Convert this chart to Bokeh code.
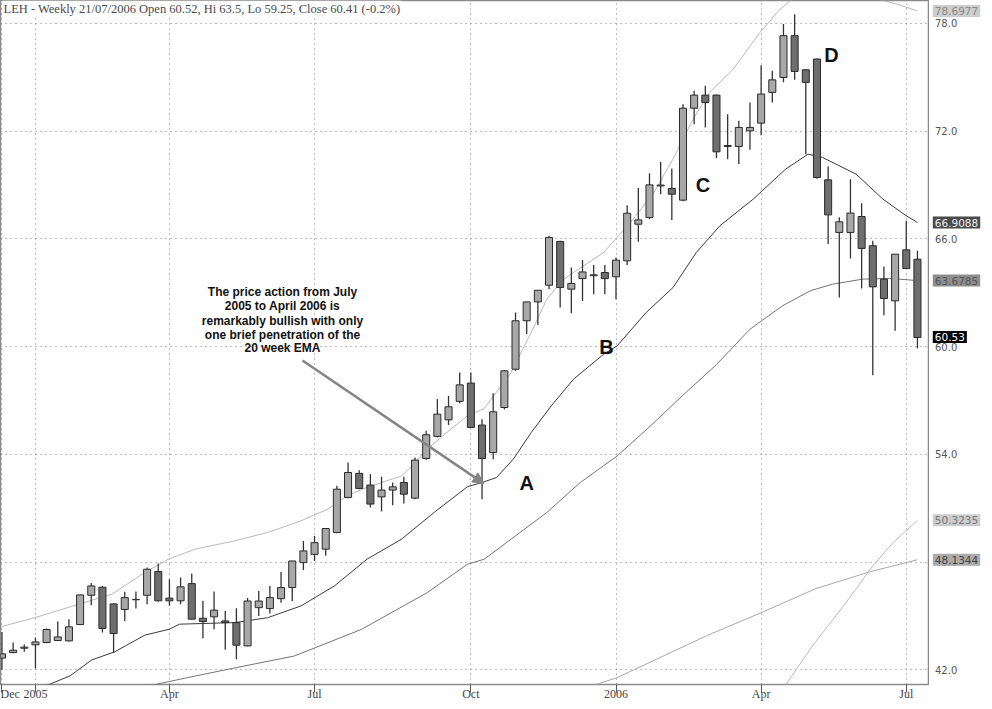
from bokeh.plotting import figure
from bokeh.layouts import row
from bokeh.models import Range1d, FixedTicker, Label, Arrow, NormalHead, ColumnDataSource, Grid
from bokeh.embed import file_html
from bokeh.resources import INLINE
from bokeh.core.properties import value

# ---------------- data (weekly candles, index = week number) ----------------
opens = [42.65, 42.96, 43.20, 43.39, 43.52, 43.63, 43.61, 44.52, 46.15, 46.60,
         45.67, 45.36, 45.90, 46.15, 47.47, 45.99, 45.84, 46.80, 44.87, 44.95,
         44.72, 44.63, 43.33, 45.46, 45.41, 45.96, 46.58, 47.97, 48.43, 48.72,
         49.65, 51.60, 52.94, 52.29, 51.63, 52.01, 52.43, 51.56, 53.77, 55.00,
         55.92, 56.95, 57.97, 55.63, 54.10, 56.61, 58.74, 61.44, 62.49, 63.42,
         65.86, 63.20, 63.79, 63.95, 64.13, 63.89, 64.78, 66.82, 67.19, 68.95,
         68.81, 68.16, 73.28, 74.01, 74.01, 71.20, 71.15, 72.02, 72.45, 74.16,
         74.99, 77.32, 75.42, 76.02, 69.29, 66.36, 66.36, 67.25, 65.62, 63.76,
         62.55, 65.39, 64.87]
highs = [44.10, 43.52, 43.41, 43.80, 44.30, 44.69, 44.82, 46.20, 46.84, 46.67,
         45.70, 46.34, 46.36, 47.70, 47.92, 47.04, 47.14, 47.36, 45.84, 46.36,
         45.28, 45.43, 46.00, 46.39, 46.67, 47.45, 48.07, 49.18, 49.45, 49.90,
         52.25, 53.55, 53.12, 52.90, 52.75, 52.43, 52.75, 53.83, 55.31, 57.08,
         57.26, 58.56, 58.56, 55.96, 57.41, 58.70, 61.90, 62.50, 63.15, 66.17,
         65.90, 64.41, 64.83, 64.54, 64.54, 64.96, 67.88, 68.83, 69.66, 70.29,
         69.92, 73.50, 74.25, 74.53, 74.05, 72.95, 72.58, 73.60, 75.68, 75.37,
         77.97, 78.52, 75.45, 76.05, 70.04, 67.20, 69.33, 67.99, 65.90, 64.47,
         65.15, 67.01, 65.34]
lows = [42.00, 42.92, 43.00, 42.07, 43.48, 43.60, 43.57, 44.50, 45.60, 44.07,
        42.96, 44.72, 45.41, 45.65, 45.80, 45.56, 45.65, 44.80, 43.76, 44.26,
        43.11, 42.59, 43.30, 44.99, 45.13, 45.74, 45.83, 47.56, 48.06, 48.35,
        49.60, 51.55, 52.06, 51.04, 50.82, 51.17, 51.26, 51.50, 53.70, 54.94,
        55.63, 56.85, 55.50, 51.50, 53.73, 56.50, 58.65, 60.70, 61.21, 63.20,
        62.18, 61.86, 62.55, 62.92, 62.92, 62.64, 64.54, 65.84, 67.10, 68.49,
        67.06, 68.10, 72.39, 72.20, 70.50, 70.44, 70.17, 70.97, 71.78, 73.60,
        74.72, 74.86, 70.72, 69.35, 65.71, 62.74, 64.91, 63.24, 58.41, 61.75,
        60.88, 64.35, 59.90]
closes = [42.89, 43.09, 43.26, 43.55, 44.24, 43.83, 44.39, 46.17, 46.67, 44.30,
          44.02, 46.02, 45.92, 47.60, 45.84, 45.84, 46.62, 44.82, 44.69, 45.32,
          44.63, 43.37, 45.83, 45.83, 46.02, 46.58, 48.06, 48.62, 49.08, 49.87,
          52.06, 52.99, 52.10, 51.23, 52.01, 52.19, 51.78, 53.68, 55.09, 56.24,
          56.65, 57.87, 55.50, 53.77, 56.37, 58.65, 61.44, 62.49, 63.14, 66.08,
          63.29, 63.52, 64.16, 64.00, 63.79, 64.82, 67.43, 67.06, 69.01, 69.00,
          68.49, 73.28, 74.01, 73.60, 70.85, 71.15, 72.21, 72.21, 74.07, 74.86,
          77.32, 75.33, 74.72, 69.42, 67.34, 66.95, 67.44, 65.47, 63.33, 62.68,
          65.15, 64.35, 60.51]
weeks = list(range(len(opens)))

tick_weeks = [0, 3, 15, 28, 42, 55, 68, 81]
tick_labels = ["Dec", "2005", "Apr", "Jul", "Oct", "2006", "Apr", "Jul"]
price_ticks = [42, 48, 54, 60, 66, 72, 78]
price_labels = ["42.0", "48.0", "54.0", "60.0", "66.0", "72.0", "78.0"]

# 20 week EMA
ema_w = [3.9, 6.1, 8.05, 10.1, 12.8, 15.0, 15.9, 20.9, 23.8, 26.8, 29.8, 32.7, 35.8, 38.7,
         41.7, 43.0, 44.3, 45.8, 47.4, 49.2, 51.2, 53.9, 55.1, 57.7, 60.1, 62.2, 64.3,
         67.3, 70.2, 72.2, 73.5, 76.5, 78.9, 80.9, 82.0]
ema_v = [41.10, 41.66, 42.55, 43.00, 43.93, 44.26, 44.54, 44.63, 44.90, 45.56, 46.68, 48.16,
         49.28, 50.76, 52.20, 52.43, 52.71, 53.73, 55.21, 56.70, 58.19, 59.58, 60.04, 61.90,
         63.29, 65.25, 66.73, 68.22, 69.89, 70.72, 70.54, 69.61, 68.22, 67.33, 66.91]
# upper band
upper_w = [-0.15, 3.0, 6.85, 9.85, 12.8, 14.9, 17.3, 20.85, 23.8, 26.8, 29.2, 30.9, 32.7,
           35.8, 36.9, 38.1, 40.2, 41.7, 43.2, 45.6, 47.4, 48.8, 50.3, 53.9, 56.3, 58.4,
           60.1, 61.9, 63.4, 65.5, 67.9, 69.7, 70.8, 74.5, 78.3, 80.2, 82.0]
upper_v = [44.39, 44.91, 45.65, 46.21, 47.42, 48.16, 48.72, 49.18, 49.65, 50.30, 50.95, 51.69,
           52.16, 52.80, 53.46, 54.29, 55.40, 56.15, 56.55, 58.56, 60.79, 62.64, 63.76, 65.25,
           66.92, 68.59, 70.44, 72.67, 74.16, 75.46, 77.50, 78.80, 79.36, 80.30, 79.38, 79.07,
           78.70]
# 40 week average
ma40_w = [13.1, 17.3, 21.7, 26.2, 29.2, 32.2, 35.8, 38.1, 41.7, 43.2, 48.8, 51.8, 55.1, 58.1,
          61.0, 64.0, 67.0, 69.9, 72.4, 74.4, 77.1, 79.5, 82.0]
ma40_v = [41.10, 41.65, 42.21, 42.77, 43.51, 44.25, 45.50, 46.30, 47.88, 48.16, 50.76, 52.43,
          53.91, 55.59, 57.30, 59.00, 60.97, 62.27, 63.11, 63.48, 63.76, 63.80, 63.68]
# lower lines
lowa_w = [52.0, 55.1, 58.6, 63.1, 68.0, 72.9, 77.7, 82.0]
lowa_v = [40.94, 41.56, 42.58, 43.89, 45.18, 46.52, 47.45, 48.13]
lowb_w = [69.8, 72.6, 75.6, 78.0, 79.8, 82.0]
lowb_v = [40.80, 43.33, 45.74, 47.78, 49.08, 50.32]

last_values = [78.6977, 66.9088, 63.6785, 60.53, 50.3235, 48.1344]
last_texts = ["78.6977", "66.9088", "63.6785", "60.53", "50.3235", "48.1344"]
last_bg = ["#cdcdcd", "#4a4a4a", "#8e8e8e", "#000000", "#cdcdcd", "#ababab"]
last_fg = ["#8a8a8a", "#eeeeee", "#555555", "#ffffff", "#777777", "#444444"]

note_lines = ["The price action from July", "2005 to April 2006 is",
              "remarkably bullish with only", "one brief penetration of the",
              "20 week EMA"]
note_w = [25.13] * 5
note_v = [63.07, 62.29, 61.45, 60.67, 59.95]
arrow_from = (26.92, 59.23)
arrow_to = (43.17, 52.37)
point_names = ["A", "B", "C", "D"]
point_w = [47.0, 54.15, 62.8, 74.3]
point_v = [52.43, 60.0, 69.0, 76.27]

title_text = "LEH - Weekly 21/07/2006 Open 60.52, Hi 63.5, Lo 59.25, Close 60.41 (-0.2%)"

Y_LO, Y_HI = 41.18, 79.28
FRAME_H = 684
GRID_COLOR = "#7a7a7a"
GRID_DASH = "1 4"

# ---------------- main figure ----------------
p = figure(frame_width=929, frame_height=FRAME_H,
           x_range=Range1d(-0.13, 83.08), y_range=Range1d(Y_LO, Y_HI),
           output_backend="svg", toolbar_location=None,
           y_axis_location=None,
           min_border_left=0, min_border_right=0, min_border_top=0, min_border_bottom=17,
           background_fill_color="white", border_fill_color="white")
p.outline_line_color = "#8a8a8a"
p.outline_line_width = 1.5

# remove any default horizontal grid, keep only our dotted one
p.ygrid.visible = False

xa = p.xaxis[0]
xa.ticker = FixedTicker(ticks=tick_weeks)
xa.major_label_overrides = {w: l for w, l in zip(tick_weeks, tick_labels)}
xa.axis_line_color = None
xa.major_tick_line_color = "#555555"
xa.major_tick_out = 8
xa.major_tick_in = 0
xa.minor_tick_line_color = None
xa.major_label_text_align = "left"
xa.major_label_standoff = -6
xa.major_label_text_font = "Liberation Serif"
xa.major_label_text_font_size = "12px"
xa.major_label_text_color = "#444444"

p.xgrid.grid_line_color = GRID_COLOR
p.xgrid.grid_line_dash = GRID_DASH
p.xgrid.grid_line_width = 1
hgrid = Grid(dimension=1, ticker=FixedTicker(ticks=price_ticks))
hgrid.grid_line_color = GRID_COLOR
hgrid.grid_line_dash = GRID_DASH
hgrid.grid_line_width = 1
p.add_layout(hgrid)

# lines
p.line(lowb_w, lowb_v, line_color="#bdbdbd", line_width=1)
p.line(lowa_w, lowa_v, line_color="#a8a8a8", line_width=1)
p.line(ma40_w, ma40_v, line_color="#757575", line_width=1)
p.line(upper_w, upper_v, line_color="#b8b8b8", line_width=1)
p.line(ema_w, ema_v, line_color="#3a3a3a", line_width=1)

# candles
tops = [max(o, c) for o, c in zip(opens, closes)]
bots = [min(o, c) for o, c in zip(opens, closes)]
fills = ["#a8a8a8" if c >= o else "#6e6e6e" for o, c in zip(opens, closes)]
src = ColumnDataSource(dict(w=weeks, h=highs, l=lows, t=tops, b=bots, f=fills))
p.segment(x0="w", y0="l", x1="w", y1="h", source=src, line_color="#333333", line_width=1.3)
p.vbar(x="w", top="t", bottom="b", width=0.63, source=src, fill_color="f",
       line_color="#2a2a2a", line_width=1)

# annotation text
p.text(x=note_w, y=note_v, text=note_lines, text_font=value("Liberation Sans"),
       text_font_style="bold", text_font_size="12px", text_align="center",
       text_baseline="middle", text_color="#111111")
p.add_layout(Arrow(end=NormalHead(size=11, fill_color="#858585", line_color="#858585"),
                   x_start=arrow_from[0], y_start=arrow_from[1],
                   x_end=arrow_to[0], y_end=arrow_to[1],
                   line_color="#858585", line_width=2.5))
p.text(x=point_w, y=point_v, text=point_names, text_font=value("Liberation Sans"),
       text_font_style="bold", text_font_size="20px", text_align="center",
       text_baseline="middle", text_color="#111111")

# title on the top border
p.add_layout(Label(x=0.05, y=Y_HI, text=title_text, text_font="Liberation Serif",
                   text_font_size="12.5px", text_color="#4a4a4a", text_baseline="top",
                   text_align="left", background_fill_color="white", padding=1))

# ---------------- right price scale ----------------
q = figure(frame_width=55, frame_height=FRAME_H,
           x_range=Range1d(0, 1), y_range=p.y_range,
           output_backend="svg", toolbar_location=None,
           x_axis_location=None, y_axis_location=None,
           min_border_left=0, min_border_right=0, min_border_top=0, min_border_bottom=17,
           background_fill_color="white", border_fill_color="white")
q.outline_line_color = None
q.grid.visible = False
q.text(x=[0.1] * len(price_ticks), y=price_ticks, text=price_labels,
       text_font=value("DejaVu Sans"), text_font_size="10px", text_color="#555555",
       text_align="left", text_baseline="middle")
for v, t, bg, fg in zip(last_values, last_texts, last_bg, last_fg):
    q.add_layout(Label(x=0.06, y=v, text=t, text_font="DejaVu Sans", text_font_size="10.5px",
                       text_color=fg, text_baseline="middle", text_align="left",
                       background_fill_color=bg, padding=2))

layout = row(p, q, spacing=0)
open("out.html", "w").write(file_html(layout, INLINE))
